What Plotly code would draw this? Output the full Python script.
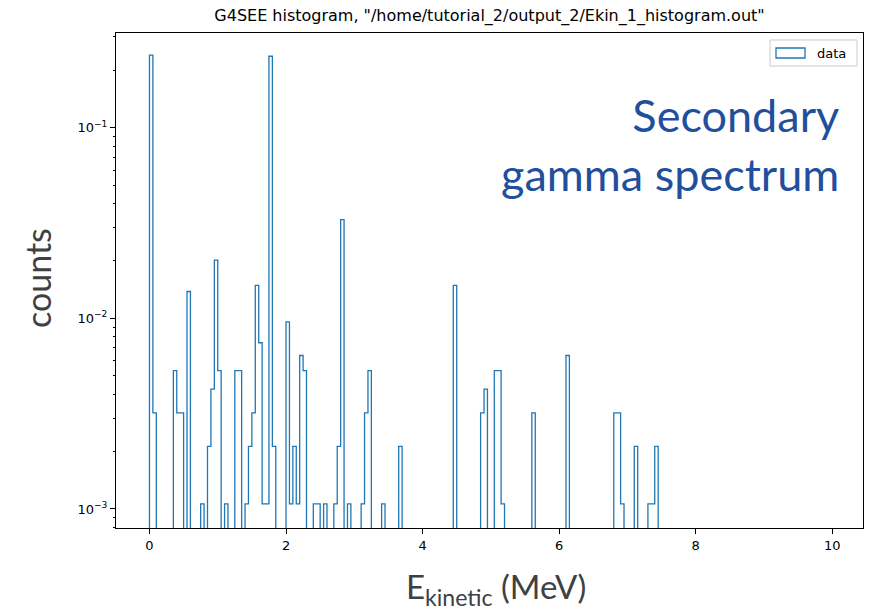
import plotly.graph_objects as go

# ---- data ----
bin_width_MeV = 0.05
n_bins = 200
bin_low_MeV = [0.00, 0.05, 0.35, 0.40, 0.45, 0.55, 0.75, 0.85, 0.90, 0.95,
               1.00, 1.10, 1.25, 1.30, 1.40, 1.45, 1.50, 1.55, 1.60, 1.65,
               1.70, 1.75, 1.80, 2.00, 2.05, 2.10, 2.15, 2.20, 2.25, 2.40,
               2.45, 2.55, 2.70, 2.75, 2.80, 2.90, 3.10, 3.15, 3.20, 3.40,
               3.65, 4.45, 4.85, 4.90, 5.05, 5.10, 5.15, 5.60, 6.10, 6.80,
               6.85, 6.90, 7.10, 7.30, 7.35, 7.40]
counts = [0.2404, 0.003191, 0.005319, 0.003191, 0.003191, 0.01383, 0.001064, 0.002128, 0.004255, 0.02021,
          0.005319, 0.001064, 0.005319, 0.005319, 0.001064, 0.002128, 0.003191, 0.01489, 0.007447, 0.001064,
          0.001064, 0.2372, 0.002128, 0.009574, 0.001064, 0.002128, 0.001064, 0.006383, 0.005319, 0.001064,
          0.001064, 0.001064, 0.001064, 0.002128, 0.03298, 0.001064, 0.001064, 0.003191, 0.005319, 0.001064,
          0.002128, 0.01489, 0.003191, 0.004255, 0.005319, 0.005319, 0.001064, 0.003191, 0.006383, 0.003191,
          0.003191, 0.001064, 0.002128, 0.001064, 0.001064, 0.002128]

x_tick_vals = [0, 2, 4, 6, 8, 10]
x_tick_text = ["0", "2", "4", "6", "8", "10"]
y_tick_vals = [1e-3, 1e-2, 1e-1]
y_tick_text = ["10<sup>\u22123</sup>", "10<sup>\u22122</sup>", "10<sup>\u22121</sup>"]
y_minor_vals = [m * 10.0 ** e for e in (-4, -3, -2, -1) for m in range(2, 10)]

title_text = 'G4SEE histogram, "/home/tutorial_2/output_2/Ekin_1_histogram.out"'

# ---- build the step outline (matplotlib histtype="step") ----
FLOOR = 1e-6  # empty bins drop below the visible log range
lookup = {round(lo / bin_width_MeV): v for lo, v in zip(bin_low_MeV, counts)}
xs = [0.0]
ys = [FLOOR]
for k in range(n_bins):
    xs.append(k * bin_width_MeV)
    ys.append(lookup.get(k, FLOOR))
xs.append(n_bins * bin_width_MeV)
ys.append(FLOOR)

fig = go.Figure()
fig.add_trace(go.Scatter(x=xs, y=ys, mode="lines", line_shape="hv",
                         line=dict(color="#1f77b4", width=1.3),
                         name="data", showlegend=False, hoverinfo="skip"))

W, H = 874, 611
L, R, T, B = 116, 11, 33, 83
pw, ph = W - L - R, H - T - B


def px(x):
    return (x - L) / pw


def py(y):
    return (H - B - y) / ph


tick_font = dict(family="DejaVu Sans", size=13, color="black")
fig.update_layout(
    width=W, height=H, margin=dict(l=L, r=R, t=T, b=B, pad=0),
    paper_bgcolor="white", plot_bgcolor="white",
    title=dict(text=title_text, x=0.5 * (L + W - R) / W, xanchor="center",
               y=1 - 15 / H, yanchor="middle",
               font=dict(family="DejaVu Sans", size=16, color="black")),
    xaxis=dict(range=[-0.49, 10.45], tickmode="array", tickvals=x_tick_vals,
               ticktext=x_tick_text, ticks="outside", ticklen=5, tickwidth=1,
               tickcolor="black", showline=True, linecolor="black", linewidth=1,
               mirror=True, showgrid=False, zeroline=False, tickfont=tick_font),
    yaxis=dict(type="log", range=[-3.1, -0.503], tickmode="array",
               tickvals=y_tick_vals, ticktext=y_tick_text, ticks="outside",
               ticklen=5, tickwidth=1, tickcolor="black", showline=True,
               linecolor="black", linewidth=1, mirror=True, showgrid=False,
               zeroline=False, tickfont=tick_font,
               minor=dict(tickmode="array", tickvals=y_minor_vals, ticks="outside",
                          ticklen=2.5, tickwidth=0.8, tickcolor="black",
                          showgrid=False)),
    showlegend=False,
)

# legend box (matplotlib style patch)
fig.add_shape(type="rect", xref="paper", yref="paper",
              x0=px(770), x1=px(857), y0=py(66), y1=py(40),
              line=dict(color="#cccccc", width=1), fillcolor="rgba(255,255,255,0.8)")
fig.add_shape(type="rect", xref="paper", yref="paper",
              x0=px(776), x1=px(805), y0=py(58), y1=py(48),
              line=dict(color="#1f77b4", width=1.3), fillcolor="rgba(0,0,0,0)")
fig.add_annotation(text="data", xref="paper", yref="paper", x=px(815), y=py(53),
                   xanchor="left", yanchor="middle", showarrow=False,
                   font=dict(family="DejaVu Sans", size=13, color="black"))

# overlay texts
fig.add_annotation(text="Secondary<br>gamma spectrum", xref="paper", yref="paper",
                   x=px(841), y=py(144), xanchor="right", yanchor="middle",
                   align="right", showarrow=False,
                   font=dict(family="Lato", size=45, color="#1f4f9d"))
fig.add_annotation(text="counts", xref="paper", yref="paper",
                   x=px(37), y=py(278), textangle=-90, showarrow=False,
                   xanchor="center", yanchor="middle",
                   font=dict(family="Lato", size=34, color="#404040"))
fig.add_annotation(text="E<sub>kinetic</sub> (MeV)", xref="paper", yref="paper",
                   x=px(496), y=py(588), showarrow=False,
                   xanchor="center", yanchor="middle",
                   font=dict(family="Lato", size=33, color="#404040"))

fig.write_html("out.html")
